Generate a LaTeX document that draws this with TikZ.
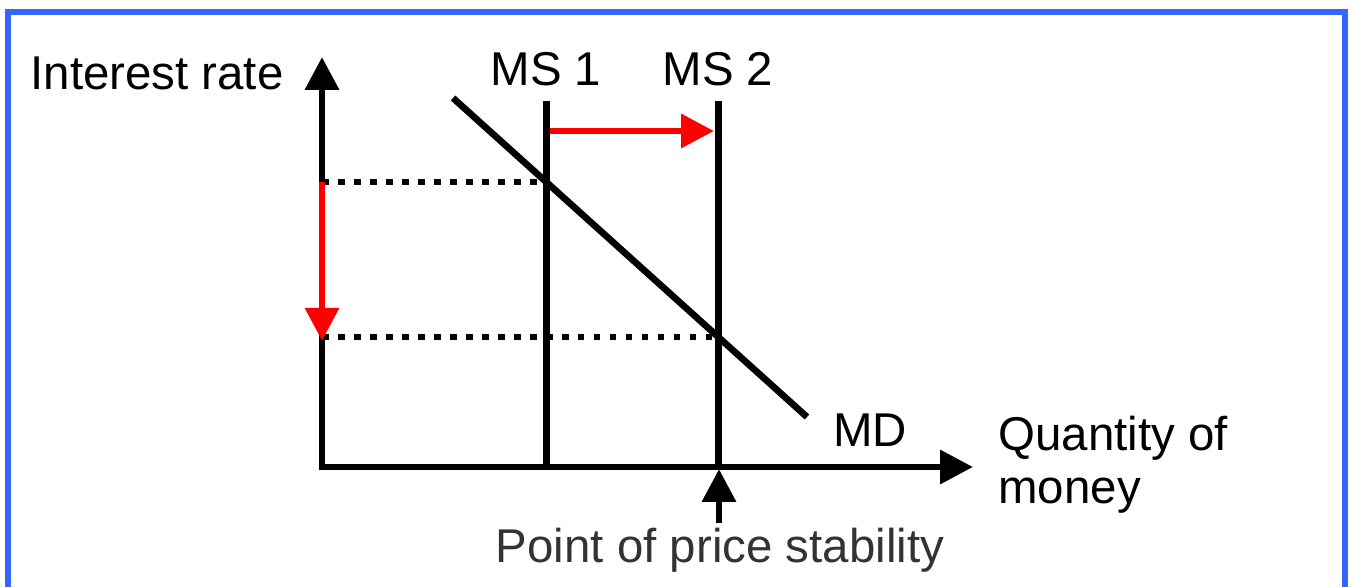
\documentclass[tikz,border=0pt]{standalone}
\usepackage{fontspec}
\setmainfont{Liberation Sans}
\usetikzlibrary{arrows.meta}
\definecolor{frameblue}{HTML}{3366FF}
\definecolor{movered}{HTML}{FF0000}
\definecolor{notegray}{HTML}{333333}

\begin{document}
\begin{tikzpicture}[x=0.02cm,y=-0.02cm,font=\fontsize{27}{30}\selectfont,
  axisline/.style={black,line width=3.8pt},
  guideline/.style={black,line width=3.5pt,dash pattern=on 3.8pt off 5.3pt},
  tipped/.style={-{Triangle[width=0.66cm,length=0.66cm]}},
  moveline/.style={movered,line width=3.8pt,tipped},
  lab/.style={anchor=base,inner sep=0pt}]
\clip (0,0) rectangle (1352,587);

% frame, open at the bottom
\draw[frameblue,line width=3.4pt] (8,600) -- (8,12) -- (1345,12) -- (1345,600);

\coordinate (ytop) at (322,57);
\coordinate (orig) at (322,467);
\coordinate (xend) at (973,467);
\coordinate (ms1top) at (546.5,101);
\coordinate (ms1foot) at (546.5,467);
\coordinate (ms2top) at (718.5,101);
\coordinate (ms2foot) at (718.5,467);
\coordinate (mdtop) at (453,98);
\coordinate (mdend) at (807,417);
\coordinate (hi) at (intersection of mdtop--mdend and ms1top--ms1foot);
\coordinate (lo) at (intersection of mdtop--mdend and ms2top--ms2foot);

% dotted read-offs to the rate axis
\draw[guideline] (hi -| orig) -- (hi);
\draw[guideline] (lo -| orig) -- (lo);

% axes
\draw[axisline,{Triangle[width=0.66cm,length=0.66cm]}-{Triangle[width=0.66cm,length=0.66cm]},line join=miter] (ytop) -- (orig) -- (xend);

% supply and demand
\draw[axisline] (ms1top) -- (ms1foot);
\draw[axisline] (ms2top) -- (ms2foot);
\draw[axisline] (mdtop) -- (mdend);

% shifts
\coordinate (pushstart) at (550,131);
\coordinate (pushend) at (714,131);
\draw[moveline] (pushstart) -- (pushend);
\draw[moveline] (hi -| orig) -- ([yshift=-2pt]lo -| orig);

% price stability marker
\coordinate (stabfoot) at (719,523);
\coordinate (stabtip) at (719,469);
\draw[axisline,tipped] (stabfoot) -- (stabtip);

\node[lab] (ratelab) at (157,90) {Interest rate};
\node[lab] (ms1lab) at (546,86) {MS 1};
\node[lab] (ms2lab) at (718,86) {MS 2};
\node[lab] (mdlab) at (870,446) {MD};
\node[lab,anchor=base west,align=left] (qtylab) at (998,503) {Quantity of\\money};
\node[lab,text=notegray] (stablab) at (720,562) {Point of price stability};
\end{tikzpicture}
\end{document}
